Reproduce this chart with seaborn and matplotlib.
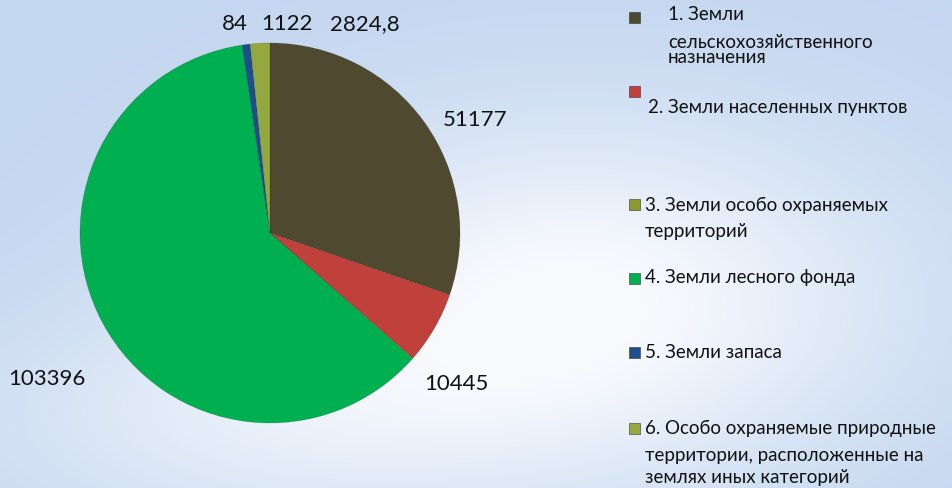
import numpy as np
import matplotlib.pyplot as plt
import seaborn as sns
from matplotlib.patches import Rectangle

# ======================
# Data
# ======================

categories = [
    "1. Земли сельскохозяйственного назначения",
    "2. Земли населенных пунктов",
    "3. Земли особо охраняемых территорий",
    "4. Земли лесного фонда",
    "5. Земли запаса",
    "6. Особо охраняемые природные территории, расположенные на землях иных категорий",
]
values = [51177, 10445, 84, 103396, 1122, 2824.8]
colors = ["#4f4a2f", "#c0403c", "#8a9a30", "#00b050", "#1f4e8c", "#93a83e"]

# legend text as it is broken in the picture
legend_lines = [
    ["1. Земли", "сельскохозяйственного\nназначения"],
    ["2. Земли населенных пунктов"],
    ["3. Земли особо охраняемых", "территорий"],
    ["4. Земли лесного фонда"],
    ["5. Земли запаса"],
    ["6. Особо охраняемые природные", "территории, расположенные на", "землях иных категорий"],
]

sns.set_style("white")
plt.rcParams["font.family"] = ["Lato", "DejaVu Sans"]

W, H = 953, 488
fig = plt.figure(figsize=(W / 100, H / 100), dpi=100)

# ======================
# Background
# ======================

bg = fig.add_axes([0, 0, 1, 1])
yy, xx = np.mgrid[0:H, 0:W]
base = np.array([196, 215, 240]) / 255
light = np.array([248, 250, 254]) / 255
glow = np.exp(-(((xx - 580) / 320) ** 2 + ((yy - 300) / 180) ** 2))
glow2 = 0.5 * np.exp(-(((xx - 250) / 300) ** 2 + ((yy - 420) / 120) ** 2))
g = np.clip(glow + glow2, 0, 1)[..., None]
img = base * (1 - g) + light * g
img[:210] = img[:210] * 0.985 + 0.015 * base
bg.imshow(img, extent=[0, W, H, 0], aspect="auto")
bg.set_xlim(0, W)
bg.set_ylim(H, 0)
bg.axis("off")

# ======================
# Pie
# ======================

cx, cy, r = 270, 233, 190
ax = fig.add_axes([(cx - r) / W, (H - cy - r) / H, 2 * r / W, 2 * r / H])
wedges, _ = ax.pie(
    values,
    colors=colors,
    startangle=90,
    counterclock=False,
    radius=1,
    wedgeprops=dict(edgecolor=(0, 0, 0, 0.15), linewidth=0.6),
)
ax.set_xlim(-1, 1)
ax.set_ylim(-1, 1)
ax.axis("off")

# data labels (placed like the original, small slices moved to the top)
label_pos = [(1.079, 0.595), (0.979, -0.795), (-0.184, 1.10),
             (-1.174, -0.768), (0.089, 1.10), (0.50, 1.10)]
for v, (lx, ly) in zip(values, label_pos):
    txt = f"{v:g}".replace(".", ",")
    ax.text(lx, ly, txt, ha="center", va="center", fontsize=16,
            color="#111111", clip_on=False)

# ======================
# Legend
# ======================

ov = fig.add_axes([0, 0, 1, 1])
ov.set_xlim(0, W)
ov.set_ylim(H, 0)
ov.axis("off")
ov.patch.set_alpha(0)

marker_y = [17, 91, 204, 278, 352, 428]
text_x = [668, 648, 645, 645, 645, 645]
first_y = [15, 107, 205, 278, 352, 428]
line_gap = [[0, 35], [0], [0, 27], [0], [0], [0, 27, 50]]

for i in range(len(categories)):
    ov.add_patch(Rectangle((629, marker_y[i] - 5), 11, 11, facecolor=colors[i],
                           edgecolor="#333333", linewidth=0.4))
    for line, dy in zip(legend_lines[i], line_gap[i]):
        ov.text(text_x[i], first_y[i] + dy, line, ha="left", va="center",
                fontsize=13.5, color="#111111", linespacing=0.85)

fig.savefig("out.png", dpi=100)
